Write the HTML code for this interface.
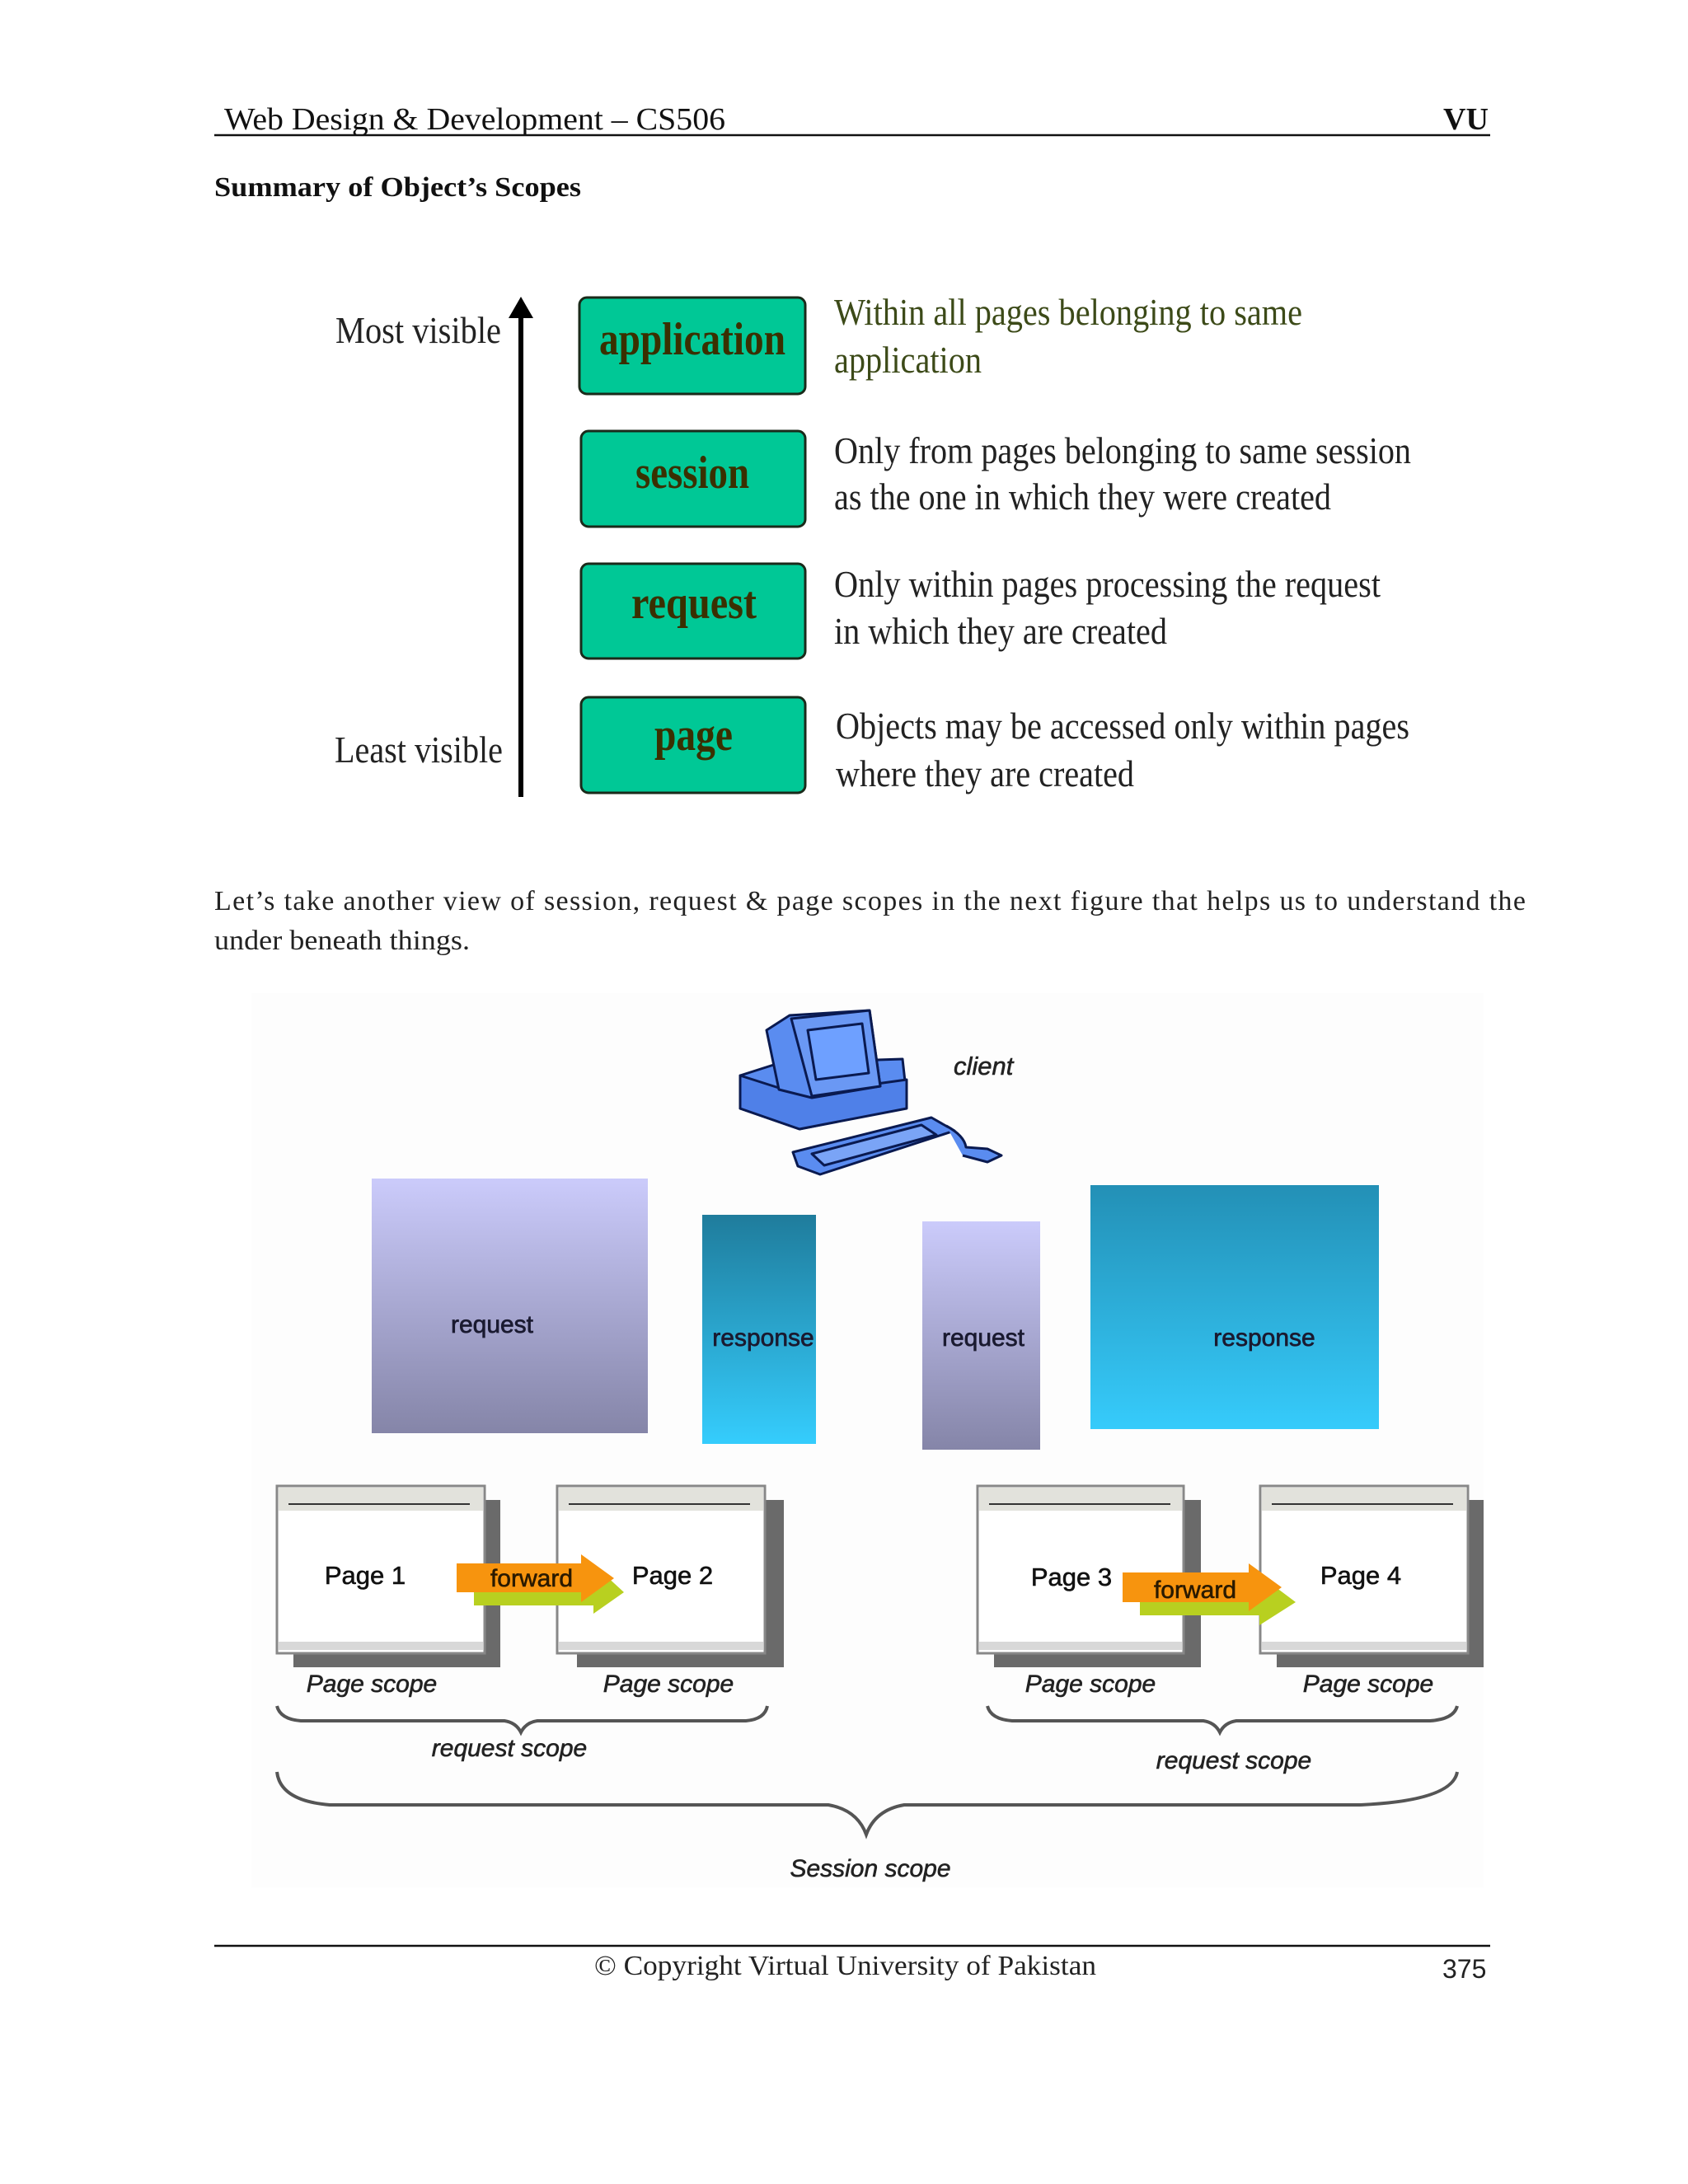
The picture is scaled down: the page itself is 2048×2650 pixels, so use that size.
<!DOCTYPE html>
<html><head><meta charset="utf-8"><style>
html,body{margin:0;padding:0;background:#fff;}
svg{display:block;}
</style></head><body>
<svg width="2048" height="2650" viewBox="0 0 2048 2650" xmlns="http://www.w3.org/2000/svg">
<defs>
<linearGradient id="rq" x1="0" y1="0" x2="0" y2="1"><stop offset="0" stop-color="#cbcbfb"/><stop offset="1" stop-color="#8585a8"/></linearGradient>
<linearGradient id="rs" x1="0" y1="0" x2="0" y2="1"><stop offset="0" stop-color="#1f7c9c"/><stop offset="1" stop-color="#35cdfd"/></linearGradient>
<linearGradient id="rs2" x1="0" y1="0" x2="0" y2="1"><stop offset="0" stop-color="#2390b6"/><stop offset="1" stop-color="#36cbfb"/></linearGradient>
</defs>
<rect width="2048" height="2650" fill="#fff"/>
<g font-family="Liberation Serif, serif" fill="#111">
<text x="272" y="157" font-size="38" textLength="608" lengthAdjust="spacingAndGlyphs">Web Design &amp; Development – CS506</text>
<text x="1751" y="157" font-size="38" font-weight="bold" textLength="55" lengthAdjust="spacingAndGlyphs">VU</text>
</g>
<line x1="260" y1="164" x2="1808" y2="164" stroke="#111" stroke-width="2.5"/>
<text x="260" y="238" font-family="Liberation Serif, serif" font-size="34" font-weight="bold" fill="#111" textLength="445" lengthAdjust="spacingAndGlyphs">Summary of Object’s Scopes</text>

<g font-family="Liberation Serif, serif" fill="#222" font-size="46">
<text x="407" y="416" textLength="201" lengthAdjust="spacingAndGlyphs">Most visible</text>
<text x="406" y="925" textLength="204" lengthAdjust="spacingAndGlyphs">Least visible</text>
</g>
<line x1="632" y1="380" x2="632" y2="967" stroke="#000" stroke-width="6"/>
<polygon points="632,360 617,386 647,386" fill="#000"/>
<g fill="#00c896" stroke="#1a2a1a" stroke-width="3">
<rect x="703" y="361" width="274" height="117" rx="9"/>
<rect x="705" y="523" width="272" height="116" rx="9"/>
<rect x="705" y="684" width="272" height="115" rx="9"/>
<rect x="705" y="846" width="272" height="116" rx="9"/>
</g>
<g font-family="Liberation Serif, serif" font-weight="bold" fill="#3a3000" font-size="56">
<text x="727" y="430" textLength="226" lengthAdjust="spacingAndGlyphs">application</text>
<text x="771" y="592" textLength="138" lengthAdjust="spacingAndGlyphs">session</text>
<text x="766" y="750" textLength="152" lengthAdjust="spacingAndGlyphs">request</text>
<text x="794" y="910" textLength="95" lengthAdjust="spacingAndGlyphs">page</text>
</g>
<g font-family="Liberation Serif, serif" font-size="46" fill="#222">
<text x="1012" y="394" fill="#3c4a18" textLength="568" lengthAdjust="spacingAndGlyphs">Within all pages belonging to same</text>
<text x="1012" y="452" fill="#3c4a18" textLength="179" lengthAdjust="spacingAndGlyphs">application</text>
<text x="1012" y="562" textLength="700" lengthAdjust="spacingAndGlyphs">Only from pages belonging to same session</text>
<text x="1012" y="618" textLength="603" lengthAdjust="spacingAndGlyphs">as the one in which they were created</text>
<text x="1012" y="724" textLength="663" lengthAdjust="spacingAndGlyphs">Only within pages processing the request</text>
<text x="1012" y="781" textLength="404" lengthAdjust="spacingAndGlyphs">in which they are created</text>
<text x="1014" y="896" textLength="696" lengthAdjust="spacingAndGlyphs">Objects may be accessed only within pages</text>
<text x="1014" y="954" textLength="362" lengthAdjust="spacingAndGlyphs">where they are created</text>
</g>

<g font-family="Liberation Serif, serif" font-size="34" fill="#222">
<text x="260" y="1104" textLength="1591" lengthAdjust="spacing">Let’s take another view of session, request &amp; page scopes in the next figure that helps us to understand the</text>
<text x="260" y="1152" textLength="310" lengthAdjust="spacingAndGlyphs">under beneath things.</text>
</g>

<rect x="305" y="1205" width="1495" height="1085" fill="#fdfdfd"/>

<!-- computer -->
<g stroke="#0a1a50" stroke-width="3" fill="#5a8cf0" stroke-linejoin="round">
<polygon points="898,1305 945,1290 1095,1285 1100,1330 1070,1350 970,1370 898,1345"/>
<polygon points="898,1305 970,1328 1100,1310 1100,1345 970,1370 898,1345" fill="#4f80e8"/>
<polygon points="930,1250 958,1232 1055,1226 1068,1318 985,1332 945,1322"/>
<polygon points="960,1236 1055,1226 1068,1318 985,1330" fill="#6a98f4"/>
<polygon points="980,1250 1046,1242 1054,1302 990,1310" fill="#6ea0ff"/>
<polygon points="962,1398 1130,1356 1158,1372 995,1425 968,1415"/>
<polygon points="985,1400 1118,1365 1136,1377 1000,1414" fill="#7aa4f6"/>
<path d="M1148,1366 Q1170,1378 1172,1392 L1198,1394 L1215,1402 L1198,1410 L1168,1402" fill="#5a8cf0"/>
</g>
<text x="1157" y="1304" font-family="Liberation Sans, sans-serif" font-style="italic" font-size="31" fill="#222" stroke="#222" stroke-width="0.6">client</text>

<rect x="451" y="1430" width="335" height="309" fill="url(#rq)"/>
<rect x="852" y="1474" width="138" height="278" fill="url(#rs)"/>
<rect x="1119" y="1482" width="143" height="277" fill="url(#rq)"/>
<rect x="1323" y="1438" width="350" height="296" fill="url(#rs2)"/>
<g font-family="Liberation Sans, sans-serif" font-size="30" fill="#1a1a30" stroke="#1a1a30" stroke-width="0.7" text-anchor="middle">
<text x="597" y="1617">request</text>
<text x="926" y="1633">response</text>
<text x="1193" y="1633">request</text>
<text x="1534" y="1633">response</text>
</g>

<g>
<rect x="356" y="1820" width="251" height="203" fill="#6a6a6a"/>
<rect x="336" y="1803" width="252" height="203" fill="#fff" stroke="#888" stroke-width="3"/>
<rect x="338" y="1805" width="248" height="28" fill="#e2e2dc"/>
<rect x="338" y="1992" width="248" height="10" fill="#d8d8d8"/>
<rect x="700" y="1820" width="251" height="203" fill="#6a6a6a"/>
<rect x="676" y="1803" width="252" height="203" fill="#fff" stroke="#888" stroke-width="3"/>
<rect x="678" y="1805" width="248" height="28" fill="#e2e2dc"/>
<rect x="678" y="1992" width="248" height="10" fill="#d8d8d8"/>
<rect x="1206" y="1820" width="251" height="203" fill="#6a6a6a"/>
<rect x="1186" y="1803" width="250" height="203" fill="#fff" stroke="#888" stroke-width="3"/>
<rect x="1188" y="1805" width="246" height="28" fill="#e2e2dc"/>
<rect x="1188" y="1992" width="246" height="10" fill="#d8d8d8"/>
<rect x="1549" y="1820" width="251" height="203" fill="#6a6a6a"/>
<rect x="1529" y="1803" width="252" height="203" fill="#fff" stroke="#888" stroke-width="3"/>
<rect x="1531" y="1805" width="248" height="28" fill="#e2e2dc"/>
<rect x="1531" y="1992" width="248" height="10" fill="#d8d8d8"/>
<g stroke="#333" stroke-width="2">
<line x1="350" y1="1825" x2="570" y2="1825"/><line x1="690" y1="1825" x2="910" y2="1825"/>
<line x1="1200" y1="1825" x2="1420" y2="1825"/><line x1="1543" y1="1825" x2="1763" y2="1825"/>
</g>
</g>
<g font-family="Liberation Sans, sans-serif" font-size="31" fill="#111" stroke="#111" stroke-width="0.6" text-anchor="middle">
<text x="443" y="1922">Page 1</text>
<text x="816" y="1922">Page 2</text>
<text x="1300" y="1924">Page 3</text>
<text x="1651" y="1922">Page 4</text>
</g>
<polygon points="575,1912 720,1912 720,1898 757,1932 720,1958 720,1948 575,1948" fill="#b8d020"/>
<polygon points="554,1897 705,1897 705,1886 745,1915 705,1944 705,1932 554,1932" fill="#f7940e"/>
<polygon points="1383,1925 1528,1925 1528,1911 1572,1944 1528,1972 1528,1960 1383,1960" fill="#b8d020"/>
<polygon points="1362,1908 1515,1908 1515,1897 1555,1926 1515,1955 1515,1944 1362,1944" fill="#f7940e"/>
<g font-family="Liberation Sans, sans-serif" font-size="30" fill="#2a1a00" stroke="#2a1a00" stroke-width="0.6" text-anchor="middle">
<text x="645" y="1925">forward</text>
<text x="1450" y="1939">forward</text>
</g>
<g font-family="Liberation Sans, sans-serif" font-style="italic" font-size="30" fill="#222" stroke="#222" stroke-width="0.6" text-anchor="middle">
<text x="451" y="2053">Page scope</text>
<text x="811" y="2053">Page scope</text>
<text x="1323" y="2053">Page scope</text>
<text x="1660" y="2053">Page scope</text>
<text x="618" y="2131">request scope</text>
<text x="1497" y="2146">request scope</text>
<text x="1056" y="2277">Session scope</text>
</g>
<g fill="none" stroke="#555" stroke-width="4">
<path d="M336,2070 Q340,2086 365,2088 L612,2088 Q626,2090 632,2102 Q638,2090 652,2088 L905,2088 Q928,2086 931,2070"/>
<path d="M1198,2070 Q1202,2086 1228,2088 L1460,2088 Q1474,2090 1480,2102 Q1486,2090 1500,2088 L1735,2088 Q1764,2086 1768,2070"/>
<path d="M336,2150 Q340,2185 400,2190 L1005,2190 Q1040,2196 1051,2226 Q1062,2196 1097,2190 L1650,2190 Q1762,2185 1768,2150"/>
</g>

<line x1="260" y1="2361" x2="1808" y2="2361" stroke="#111" stroke-width="2.5"/>
<text x="721" y="2396" font-family="Liberation Serif, serif" font-size="34" fill="#222" textLength="609" lengthAdjust="spacingAndGlyphs">© Copyright Virtual University of Pakistan</text>
<text x="1750" y="2400" font-family="Liberation Sans, sans-serif" font-size="32" fill="#222">375</text>
</svg>
</body></html>
